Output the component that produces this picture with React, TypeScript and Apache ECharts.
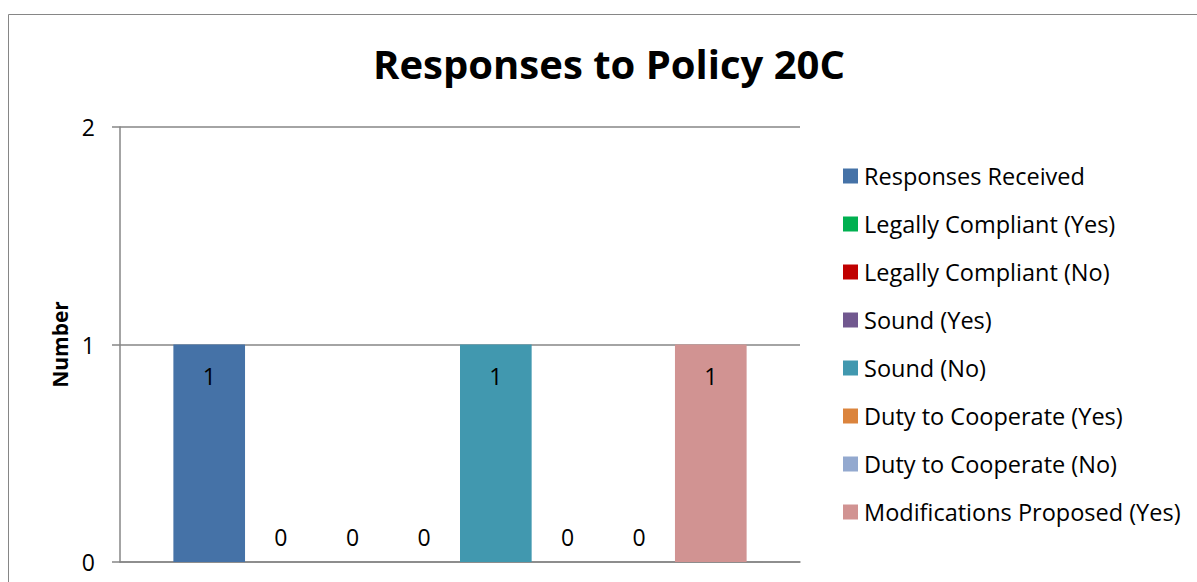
import React, { useEffect, useRef } from "react";
import * as echarts from "echarts";

const seriesNames = [
  "Responses Received",
  "Legally Compliant (Yes)",
  "Legally Compliant (No)",
  "Sound (Yes)",
  "Sound (No)",
  "Duty to Cooperate (Yes)",
  "Duty to Cooperate (No)",
  "Modifications Proposed (Yes)",
];
const seriesValues = [1, 0, 0, 0, 1, 0, 0, 1];
const seriesColors = [
  "#4572A7",
  "#00B050",
  "#C00000",
  "#71588F",
  "#4198AF",
  "#DB843D",
  "#93A9CF",
  "#D19392",
];
const categories = [""];
const yTicks = [0, 1, 2];

const FONT = "'Open Sans', 'Noto Sans', sans-serif";

export default function App() {
  const ref = useRef<HTMLDivElement>(null);
  useEffect(() => {
    if (!ref.current) return;
    const chart = echarts.init(ref.current, null, { renderer: "svg" });
    const option = {
      animation: false,
      backgroundColor: "#ffffff",
      textStyle: { fontFamily: FONT },
      title: {
        text: "Responses to Policy 20C",
        left: 609,
        top: 43,
        textAlign: "center",
        padding: 0,
        textStyle: { fontFamily: FONT, fontSize: 40, fontWeight: "bold", color: "#000" },
      },
      graphic: [
        {
          type: "rect",
          shape: { x: 8.5, y: 14.5, width: 1400, height: 800 },
          style: { fill: "none", stroke: "#868686", lineWidth: 1 },
          silent: true,
        },
      ],
      legend: {
        orient: "vertical",
        left: 843,
        top: 162,
        padding: 0,
        itemWidth: 15,
        itemHeight: 15,
        itemGap: 20,
        icon: "rect",
        data: seriesNames,
        textStyle: { fontFamily: FONT, fontSize: 23.5, color: "#000", lineHeight: 28, padding: [0, 0, 0, 1] },
      },
      grid: { left: 120, right: 397, top: 127, bottom: 20, containLabel: false },
      xAxis: {
        type: "category",
        data: categories,
        axisLine: { show: true, lineStyle: { color: "#868686", width: 1.5 } },
        axisTick: { show: false },
        axisLabel: { show: false },
      },
      yAxis: {
        type: "value",
        min: yTicks[0],
        max: yTicks[yTicks.length - 1],
        interval: 1,
        name: "Number",
        nameLocation: "middle",
        nameRotate: 90,
        nameGap: 50,
        nameTextStyle: { fontFamily: FONT, fontSize: 21, fontWeight: "bold", color: "#000" },
        axisLine: { show: true, lineStyle: { color: "#868686", width: 1.5 } },
        axisTick: { show: true, length: 8, lineStyle: { color: "#868686", width: 1.5 } },
        axisLabel: { margin: 25, fontFamily: FONT, fontSize: 23, color: "#000" },
        splitLine: { show: true, lineStyle: { color: "#868686", width: 1.5 } },
      },
      series: seriesNames.map((name, i) => ({
        name,
        type: "bar",
        barGap: "0%",
        barCategoryGap: "15.7%",
        itemStyle: { color: seriesColors[i] },
        data: [
          {
            value: seriesValues[i],
            label: {
              show: true,
              position: seriesValues[i] > 0 ? "insideTop" : "top",
              distance: seriesValues[i] > 0 ? 19.5 : 13.5,
              fontFamily: FONT,
              fontSize: 23,
              color: "#000",
            },
          },
        ],
      })),
    };
    chart.setOption(option as any);
    return () => chart.dispose();
  }, []);
  return (
    <div
      ref={ref}
      style={{ position: "fixed", left: 0, top: 0, width: 1197, height: 582 }}
    />
  );
}
